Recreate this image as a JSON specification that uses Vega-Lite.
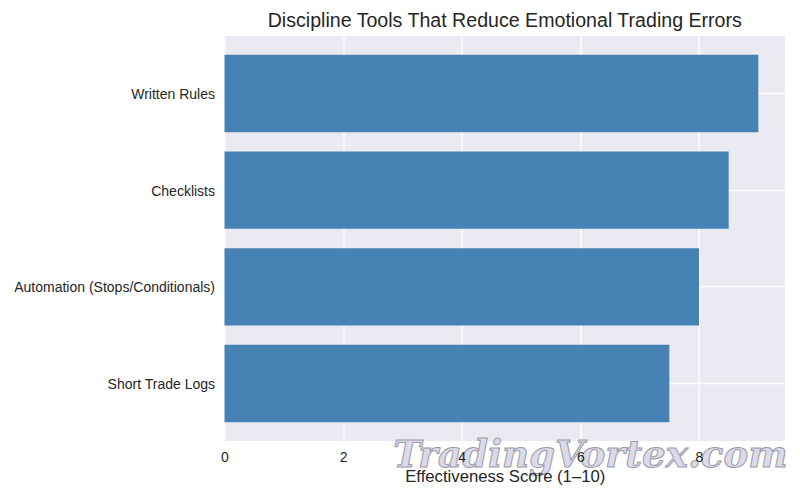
{
  "$schema": "https://vega.github.io/schema/vega-lite/v6.json",
  "width": 560.5,
  "height": 405,
  "padding": {"left": 224.5, "top": 36, "right": 15, "bottom": 59},
  "autosize": "none",
  "background": "white",
  "title": {"text": "Discipline Tools That Reduce Emotional Trading Errors", "font": "Liberation Sans", "fontSize": 19.6, "fontWeight": "normal", "color": "#262626", "anchor": "middle", "offset": 4},
  "layer": [
    {
      "data": {"values": [
        {"tool": "Written Rules", "score": 9},
        {"tool": "Checklists", "score": 8.5},
        {"tool": "Automation (Stops/Conditionals)", "score": 8},
        {"tool": "Short Trade Logs", "score": 7.5}
      ]},
      "mark": {"type": "bar", "color": "#4682B4"},
      "encoding": {
        "y": {"field": "tool", "type": "nominal", "sort": null, "title": null,
          "scale": {"paddingInner": 0.2, "paddingOuter": 0.195},
          "axis": {"grid": true, "gridColor": "white", "gridWidth": 1.3, "ticks": false, "domain": false, "labelFont": "Liberation Sans", "labelFontSize": 14, "labelColor": "#262626", "labelPadding": 10, "labelLimit": 300, "labelOffset": 1.5}},
        "x": {"field": "score", "type": "quantitative", "title": null,
          "scale": {"domain": [0, 9.45], "nice": false},
          "axis": {"orient": "bottom", "values": [0, 2, 4, 6, 8], "grid": true, "gridColor": "white", "gridWidth": 1.3, "ticks": false, "domain": false, "labels": false}}
      }
    },
    {
      "data": {"values": [
        {"tool": "Short Trade Logs", "score": 6.17, "mark": "TradingVortex.com"}
      ]},
      "mark": {"type": "text", "font": "DejaVu Serif", "fontStyle": "italic", "fontWeight": "bold", "fontSize": 37.2, "fill": "#DCDAEA", "stroke": "#9A9AA6", "strokeWidth": 1, "dy": 73, "clip": false},
      "encoding": {
        "y": {"field": "tool", "type": "nominal", "sort": null},
        "x": {"field": "score", "type": "quantitative", "title": "Effectiveness Score (1–10)",
          "scale": {"domain": [0, 9.45], "nice": false},
          "axis": {"orient": "bottom", "values": [0, 2, 4, 6, 8], "format": "d", "grid": false, "ticks": false, "domain": false, "labelFlush": false, "labelFont": "Liberation Sans", "labelFontSize": 14, "labelColor": "#262626", "labelPadding": 9, "titleFont": "Liberation Sans", "titleFontSize": 16.7, "titleFontWeight": "normal", "titleColor": "#262626", "titlePadding": 4, "zindex": 1}},
        "text": {"field": "mark"}
      }
    }
  ],
  "resolve": {"axis": {"x": "independent"}},
  "config": {"view": {"fill": "#EAEAF2", "stroke": null}}
}
